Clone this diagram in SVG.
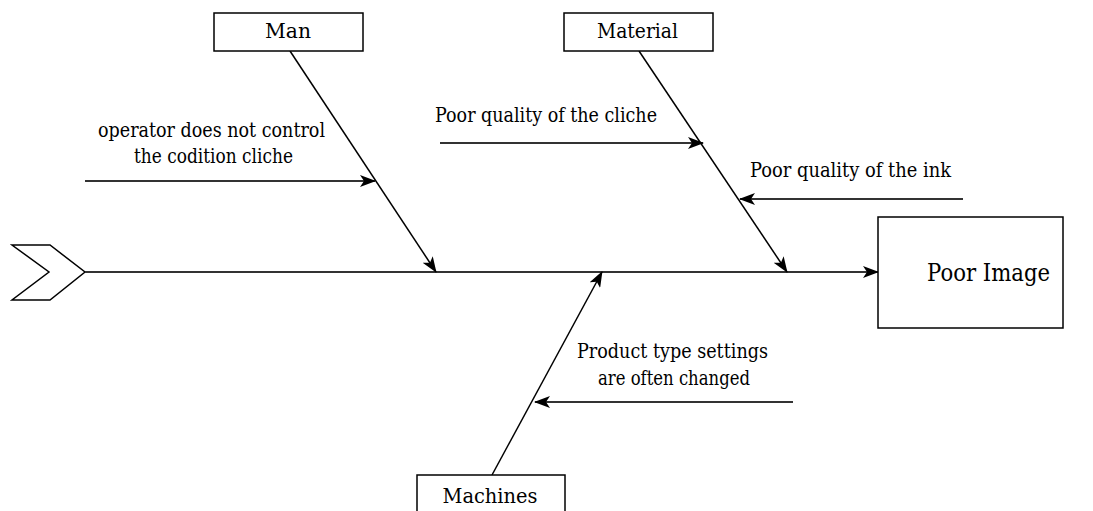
<svg xmlns="http://www.w3.org/2000/svg" width="1093" height="511" viewBox="0 0 1093 511">
<style>
.box{fill:#fff;stroke:#000;stroke-width:1.5}
.t{font-family:"DejaVu Serif","Liberation Serif",serif;fill:#000;text-anchor:middle}
.lbl{font-size:19.5px}
.bone{stroke:#000;stroke-width:1.5;fill:none}
.sub{stroke:#333;stroke-width:2;fill:none}
</style>
<defs>
<marker id="ah" markerUnits="userSpaceOnUse" markerWidth="16" markerHeight="12" viewBox="0 0 16 12" refX="15" refY="6" orient="auto">
<path d="M0,0 L16,6 L0,12 L4,6 z" fill="#000"/>
</marker>
</defs>
<rect width="1093" height="511" fill="#fff"/>
<g id="connectors">
<polygon points="12,245 50,245 85,272 50,300 12,300 49,272" fill="#fff" stroke="#000" stroke-width="1.5"/>
<line class="sub" x1="85" y1="272" x2="878" y2="272" stroke="#555" marker-end="url(#ah)"/>
<line class="bone" x1="290" y1="51" x2="436" y2="272" marker-end="url(#ah)"/>
<line class="bone" x1="639" y1="51" x2="787" y2="272" stroke-width="2" marker-end="url(#ah)"/>
<line class="bone" x1="492" y1="475" x2="602" y2="272" marker-end="url(#ah)"/>
<line class="sub" x1="85" y1="181" x2="375" y2="181" stroke="#555" marker-end="url(#ah)"/>
<line class="sub" x1="440" y1="143" x2="703" y2="143" marker-end="url(#ah)"/>
<line class="sub" x1="963" y1="199" x2="740" y2="199" marker-end="url(#ah)"/>
<line class="sub" x1="793" y1="402" x2="535" y2="402" marker-end="url(#ah)"/>
</g>
<g id="man">
<rect class="box" x="214" y="13" width="149" height="38"/>
<text class="t lbl" x="288" y="38" textLength="46" lengthAdjust="spacingAndGlyphs">Man</text>
</g>
<g id="material">
<rect class="box" x="564" y="13" width="149" height="38"/>
<text class="t lbl" x="637.5" y="38" textLength="81" lengthAdjust="spacingAndGlyphs">Material</text>
</g>
<g id="machines">
<rect class="box" x="417" y="475" width="148" height="40"/>
<text class="t lbl" x="490" y="503" textLength="95" lengthAdjust="spacingAndGlyphs">Machines</text>
</g>
<g id="poor-image">
<rect class="box" x="878" y="217" width="185" height="111"/>
<text class="t" x="988.5" y="281" font-size="24" textLength="123" lengthAdjust="spacingAndGlyphs">Poor Image</text>
</g>
<g id="cause-operator">
<text class="t lbl" x="211.5" y="137" textLength="227" lengthAdjust="spacingAndGlyphs">operator does not control</text>
<text class="t lbl" x="213.5" y="163" textLength="159" lengthAdjust="spacingAndGlyphs">the codition cliche</text>
</g>
<g id="cause-cliche">
<text class="t lbl" x="546" y="122" textLength="222" lengthAdjust="spacingAndGlyphs">Poor quality of the cliche</text>
</g>
<g id="cause-ink">
<text class="t lbl" x="850.5" y="177" textLength="201" lengthAdjust="spacingAndGlyphs">Poor quality of the ink</text>
</g>
<g id="cause-product">
<text class="t lbl" x="672.5" y="358" textLength="191" lengthAdjust="spacingAndGlyphs">Product type settings</text>
<text class="t lbl" x="674" y="385" textLength="152" lengthAdjust="spacingAndGlyphs">are often changed</text>
</g>
</svg>
